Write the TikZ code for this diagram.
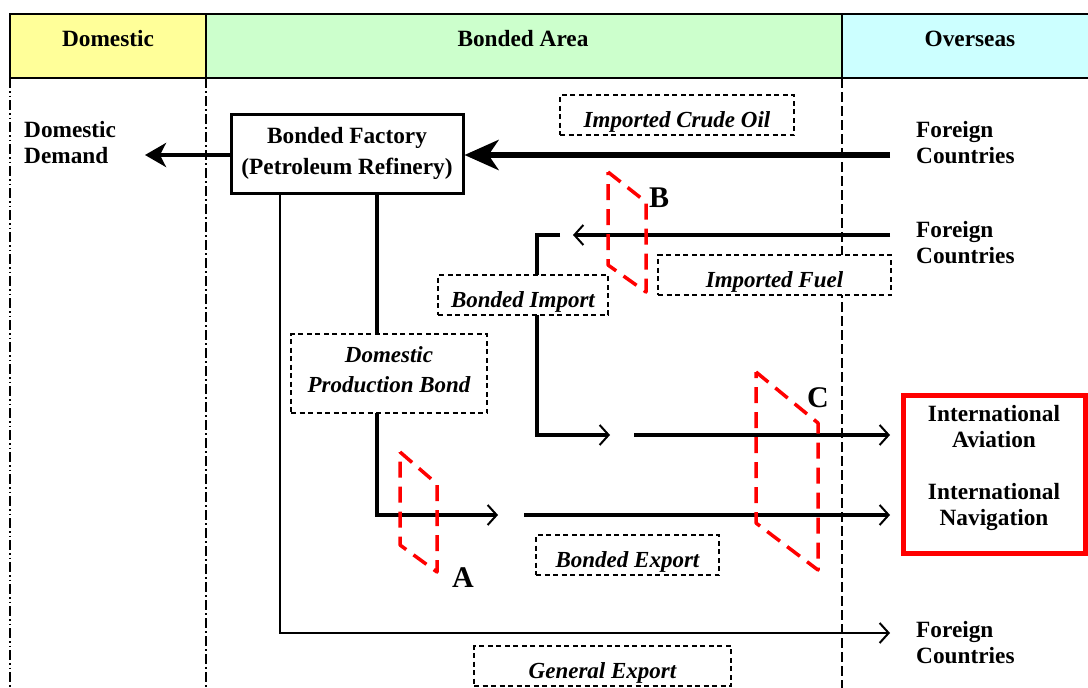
\documentclass[tikz,border=0pt]{standalone}
\usepackage{fontspec}
\setmainfont{Liberation Serif}
\usetikzlibrary{arrows.meta}
\definecolor{hdyellow}{HTML}{FFFF99}
\definecolor{hdgreen}{HTML}{CCFFCC}
\definecolor{hdcyan}{HTML}{CCFFFF}
\begin{document}
\begin{tikzpicture}[x=1pt,y=-1pt,
  txt/.style={font=\fontsize{23.3}{26}\selectfont\bfseries, inner sep=0pt, align=left},
  ctxt/.style={font=\fontsize{23.3}{26}\selectfont\bfseries, inner sep=0pt, align=center},
  ibox/.style={draw, dash pattern=on 5pt off 3.5pt, line width=1.1pt, fill=white,
    font=\fontsize{23}{26}\selectfont\bfseries\itshape, inner sep=0pt, align=center},
  one/.style={text height=24pt, text depth=0pt},
  redsh/.style={draw=red, line width=3.5pt, dash pattern=on 16pt off 9pt, line join=round},
  ln/.style={line width=4pt},
  bar/.style={-{Straight Barb[length=9pt,width=20pt,line width=2pt]}},
  letter/.style={font=\fontsize{30}{30}\selectfont\bfseries, inner sep=0pt},
  hdr/.style={draw, line width=1.5pt},
]
\useasboundingbox (0,0) rectangle (1088,688);
% header
\draw[hdr, fill=hdyellow] (10,14) rectangle (206,78);
\draw[hdr, fill=hdgreen] (206,14) rectangle (842,78);
\draw[hdr, fill=hdcyan] (842,14) rectangle (1095,78);
\node[ctxt] (hD) at (108,39) {Domestic};
\node[ctxt] (hB) at (523,39) {Bonded Area};
\node[ctxt] (hO) at (970,39) {Overseas};
% separators
\draw[line width=1.2pt, dash pattern=on 10pt off 3pt on 1.5pt off 3pt on 1.5pt off 3pt] (10,78) -- (10,688);
\draw[line width=1.5pt, dash pattern=on 10pt off 3pt on 2pt off 3pt] (206,78) -- (206,688);
\draw[line width=1.2pt, dash pattern=on 10pt off 4pt] (842,78) -- (842,688);
% texts
\node[txt, anchor=west] (dd) at (24,143) {Domestic\\Demand};
\node[txt, anchor=west] (fc1) at (916,143) {Foreign\\Countries};
\node[txt, anchor=west] (fc2) at (916,243) {Foreign\\Countries};
\node[txt, anchor=west] (fc3) at (916,643) {Foreign\\Countries};
% factory
\node[draw, line width=3pt, fill=white, minimum width=232pt, minimum height=79pt,
  font=\fontsize{23.3}{31}\selectfont\bfseries, align=center, inner sep=0pt] (fac) at (347,153.5)
  {Bonded Factory\\(Petroleum Refinery)};
% coordinates
\coordinate (co) at (890,155);
\coordinate (dt) at (145,155);
\coordinate (b0) at (890,235);
\coordinate (b1) at (573,235);
\coordinate (b2) at (560,235);
\coordinate (bc) at (537,235);
\coordinate (c1) at (610,435);
\coordinate (c2) at (634,435);
\coordinate (c3) at (890,435);
\coordinate (a1) at (498,515);
\coordinate (a2) at (524,515);
\coordinate (a3) at (890,515);
\coordinate (g3) at (890,633);
% connectors
\draw[line width=6pt, -{Stealth[length=34pt,width=30pt,inset=10pt]}] (co) -- (fac.east |- co);
\draw[line width=4pt, -{Stealth[length=21pt,width=24pt,inset=6pt]}] (fac.west |- dt) -- (dt);
\draw[ln, bar] (b0) -- (b1);
\draw[ln, bar] (b2) -- (bc) |- (c1);
\draw[ln, bar] (c2) -- (c3);
\draw[ln, bar] ([xshift=30pt]fac.south) |- (a1);
\draw[ln, bar] (a2) -- (a3);
\draw[line width=2pt, bar] ([xshift=-67pt]fac.south) |- (g3);
% dashed boxes
\node[ibox, one, minimum width=234pt, minimum height=40pt] (ico) at (677,115) {Imported Crude Oil};
\node[ibox, one, minimum width=170pt, minimum height=40pt] (bi) at (523,295) {Bonded Import};
\node[ibox, one, minimum width=233pt, minimum height=40pt] (ifu) at (774.5,275) {Imported Fuel};
\node[ibox, minimum width=196pt, minimum height=79pt, font=\fontsize{23}{30}\selectfont\bfseries\itshape] (dpb) at (389,373.5) {Domestic\\Production Bond\\[-22pt]};
\node[ibox, one, minimum width=183pt, minimum height=40pt] (be) at (627.5,555) {Bonded Export};
\node[ibox, one, minimum width=257pt, minimum height=40pt] (ge) at (602.5,666) {General Export};
% red box
\node[draw=red, line width=5pt, minimum width=182pt, minimum height=158pt, inner sep=0pt] (intl) at (994,474) {};
\node[ctxt] (ia) at (994,427) {International\\Aviation};
\node[ctxt] (in) at (994,507) {International\\Navigation};
% red dashed shapes
\draw[redsh] (400,452) -- (437,484) -- (437,572) -- (400,545) -- cycle;
\draw[redsh] (608,172) -- (646,202) -- (646,292) -- (608,265) -- cycle;
\draw[redsh] (756,372) -- (818,423) -- (818,570) -- (756,523) -- cycle;
\node[letter] (lA) at (463,578) {A};
\node[letter] (lB) at (659,198) {B};
\node[letter] (lC) at (818,398) {C};
\end{tikzpicture}
\end{document}
